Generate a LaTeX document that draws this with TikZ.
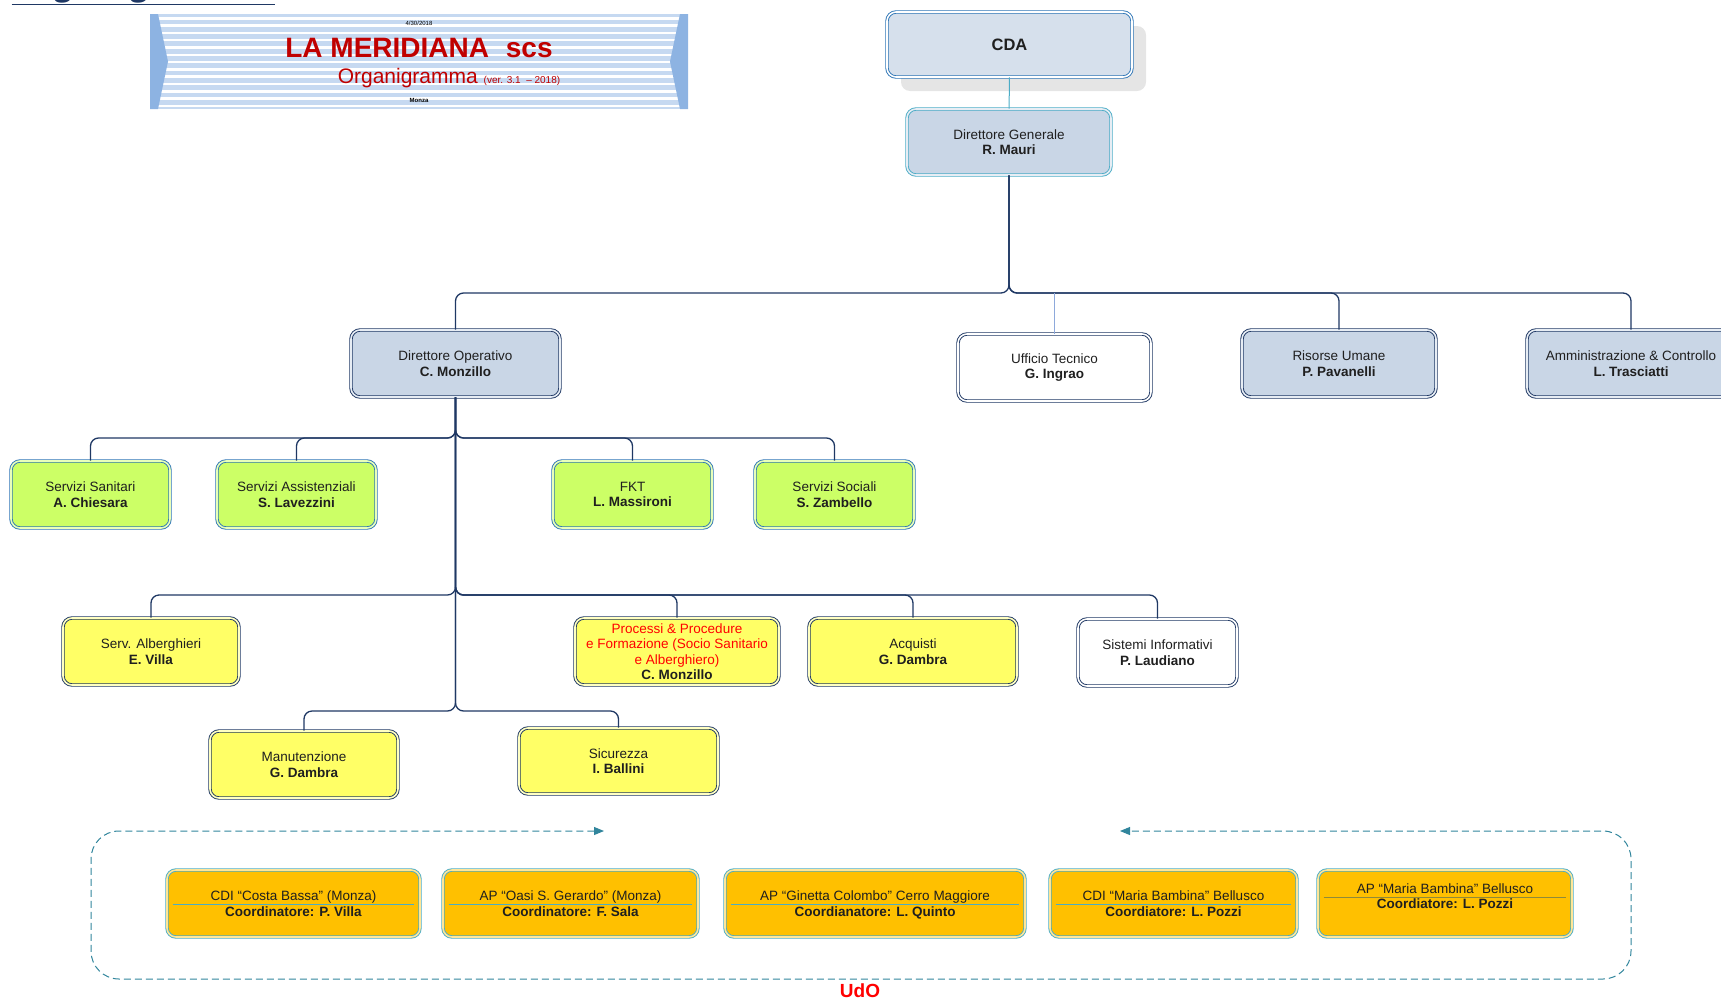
\documentclass[tikz,border=0pt]{standalone}
\usepackage{fontspec}
\setmainfont{Liberation Sans}
\usetikzlibrary{arrows.meta,shadows}

\definecolor{navy}{HTML}{1F3864}
\definecolor{cdablue}{HTML}{2E75B6}
\definecolor{dgteal}{HTML}{4BACC6}
\definecolor{lightlink}{HTML}{8EA9DB}
\definecolor{headfill}{HTML}{C9D6E6}
\definecolor{cdafill}{HTML}{D6E0EC}
\definecolor{greenfill}{HTML}{CCFF66}
\definecolor{yellowfill}{HTML}{FFFF66}
\definecolor{orangefill}{HTML}{FFC000}
\definecolor{bannerfill}{HTML}{C6D9F1}
\definecolor{banneredge}{HTML}{8DB3E2}
\definecolor{titlered}{HTML}{C00000}
\definecolor{framecol}{HTML}{31859C}

\begin{document}
\begin{tikzpicture}[x=1pt,y=-1pt,
	box/.style={rounded corners=9pt, minimum height=67pt, line width=0.9pt,
		double distance=1.6pt, inner sep=2pt, align=center, text=black!88,
		font=\fontsize{13.5}{15.5}\selectfont},
	headbox/.style={box, fill=headfill, draw=navy, double=headfill!45!white},
	whitebox/.style={box, fill=white, draw=navy, double=white},
	greenbox/.style={box, fill=greenfill, draw=cdablue, double=greenfill!45!white},
	yellowbox/.style={box, fill=yellowfill, draw=navy, double=yellowfill!40!white},
	udobox/.style={box, fill=orangefill, draw=dgteal, double=orangefill!40!white},
	link/.style={draw=navy, line width=1.3pt, rounded corners=8pt},
	sep/.style={draw=dgteal, line width=1pt},
	udoframe/.style={draw=framecol, line width=1pt, dash pattern=on 7pt off 4pt,
		rounded corners=28pt, {Triangle[length=10pt,width=8pt]}-{Triangle[length=10pt,width=8pt]}}]

	\useasboundingbox (0,0) rectangle (1721,999);

	% titolo in alto a sinistra (tagliato)
	\node[anchor=base west, text=navy, font=\fontsize{37}{40}\selectfont\bfseries\itshape]
		(heading) at (8,-5) {\underline{Organigramma}};

	% intestazione
	\fill[bannerfill] (150,14) rectangle (688,109);
	\foreach \i in {0,...,12}
		\fill[white] (150,17+7.3*\i) rectangle (688,19.5+7.3*\i);
	\fill[banneredge] (150,14) -- (158,14) -- (168,61.5) -- (158,109) -- (150,109) -- cycle;
	\fill[banneredge] (688,14) -- (680,14) -- (670,61.5) -- (680,109) -- (688,109) -- cycle;
	\node[font=\fontsize{6}{7}\selectfont] (date) at (419,23) {4/30/2018};
	\node[text=titlered, font=\fontsize{28}{30}\selectfont\bfseries] (title) at (419,48)
		{LA MERIDIANA\hspace{0.6em}scs};
	\node[anchor=base, text=titlered, font=\fontsize{21}{23}\selectfont] (subtitle) at (449,83)
		{Organigramma {\fontsize{10}{11}\selectfont (ver. 3.1 \ – 2018)}};
	\node[font=\fontsize{6}{7}\selectfont\bfseries] (town) at (419,100) {Monza};

	% vertice
	\node[box, fill=cdafill, draw=cdablue, double=white, minimum width=245pt, minimum height=65pt,
		font=\fontsize{16.5}{18}\selectfont\bfseries,
		drop shadow={shadow xshift=14pt, shadow yshift=-14pt, fill=black!10, opacity=1}]
		(cda) at (1009.5,44.5) {CDA};
	\node[box, fill=headfill, draw=dgteal, double=headfill!45!white, minimum width=204pt, minimum height=66pt]
		(dg) at (1009,142) {Direttore Generale\\\textbf{R. Mauri}};

	% secondo livello
	\node[headbox, minimum width=209pt] (do) at (455.5,363.5) {Direttore Operativo\\\textbf{C. Monzillo}};
	\node[whitebox, minimum width=193pt] (uff) at (1054.5,367.5) {Ufficio Tecnico\\\textbf{G. Ingrao}};
	\node[headbox, minimum width=194pt] (ru) at (1339,363.5) {Risorse Umane\\\textbf{P. Pavanelli}};
	\node[headbox, minimum width=208pt] (amm) at (1631,363.5) {Amministrazione \& Controllo\\\textbf{L. Trasciatti}};

	% servizi
	\node[greenbox, minimum width=159pt] (ss) at (90.5,494.5) {Servizi Sanitari\\\textbf{A. Chiesara}};
	\node[greenbox, minimum width=159pt] (sa) at (296.5,494.5) {Servizi Assistenziali\\\textbf{S. Lavezzini}};
	\node[greenbox, minimum width=159pt] (fkt) at (632.5,494.5) {FKT\\\textbf{L. Massironi}};
	\node[greenbox, minimum width=159pt] (soc) at (834.5,494.5) {Servizi Sociali\\\textbf{S. Zambello}};

	% funzioni di supporto
	\node[yellowbox, minimum width=176pt] (alb) at (151,651.5) {Serv. Alberghieri\\\textbf{E. Villa}};
	\node[yellowbox, minimum width=204pt] (proc) at (677,651.5)
		{\textcolor{red}{Processi \& Procedure}\\\textcolor{red}{e Formazione (Socio Sanitario}\\
		\textcolor{red}{e Alberghiero)}\\\textbf{C. Monzillo}};
	\node[yellowbox, minimum width=208pt] (acq) at (913,651.5) {Acquisti\\\textbf{G. Dambra}};
	\node[whitebox, minimum width=159pt] (sis) at (1157.5,652.5) {Sistemi Informativi\\\textbf{P. Laudiano}};
	\node[yellowbox, minimum width=188pt] (man) at (304,764.5) {Manutenzione\\\textbf{G. Dambra}};
	\node[yellowbox, minimum width=199pt, minimum height=66pt] (sic) at (618.5,761) {Sicurezza\\\textbf{I. Ballini}};

	% unita' di offerta
	\node[udobox, minimum width=253pt] (udo1) at (293.5,903.5) {CDI “Costa Bassa” (Monza)\\\textbf{Coordinatore: P. Villa}};
	\node[udobox, minimum width=255pt] (udo2) at (570.5,903.5) {AP “Oasi S. Gerardo” (Monza)\\\textbf{Coordinatore: F. Sala}};
	\node[udobox, minimum width=300pt] (udo3) at (875,903.5) {AP “Ginetta Colombo” Cerro Maggiore\\\textbf{Coordianatore: L. \smash{Q}uinto}};
	\node[udobox, minimum width=247pt] (udo4) at (1173.5,903.5) {CDI “Maria Bambina” Bellusco\\\textbf{Coordiatore: L. Pozzi}};
	\node[udobox, minimum width=254pt] (udo5) at (1445,903.5) {AP “Maria Bambina” Bellusco\\\textbf{Coordiatore: L. Pozzi}\\[-1pt]\mbox{}};
	\foreach \n in {udo1,udo2,udo3,udo4}
		\draw[sep] ([xshift=6pt,yshift=-1pt]\n.west) -- ([xshift=-6pt,yshift=-1pt]\n.east);
	\draw[sep, draw=olive!60!gray] ([xshift=6pt,yshift=6pt]udo5.west) -- ([xshift=-6pt,yshift=6pt]udo5.east);

	% cornice UdO
	\coordinate (udoR) at (604,831);
	\coordinate (udoL) at (1120,831);
	\draw[udoframe] (udoR) -- (91,831) -- (91,979) -- (1631,979) -- (1631,831) -- (udoL);
	\node[text=red, font=\fontsize{19}{20}\selectfont\bfseries] (udo) at (860,991) {UdO};

	% collegamenti
	\coordinate (bus2) at (0,293);
	\coordinate (bus3) at (0,438);
	\coordinate (bus4) at (0,595);
	\coordinate (bus5) at (0,711);
	\draw[dgteal, line width=1pt] (cda) -- (dg);
	\foreach \n in {do,ru,amm}
		\draw[link] (dg.south) -- (dg.south |- bus2) -| (\n.north);
	\draw[lightlink, line width=1pt] (uff.north) -- (uff.north |- bus2);
	\foreach \n in {ss,sa,fkt,soc}
		\draw[link] (do.south) -- (do.south |- bus3) -| (\n.north);
	\foreach \n in {alb,proc,acq,sis}
		\draw[link] (do.south) -- (do.south |- bus4) -| (\n.north);
	\foreach \n in {man,sic}
		\draw[link] (do.south) -- (do.south |- bus5) -| (\n.north);
\end{tikzpicture}
\end{document}
